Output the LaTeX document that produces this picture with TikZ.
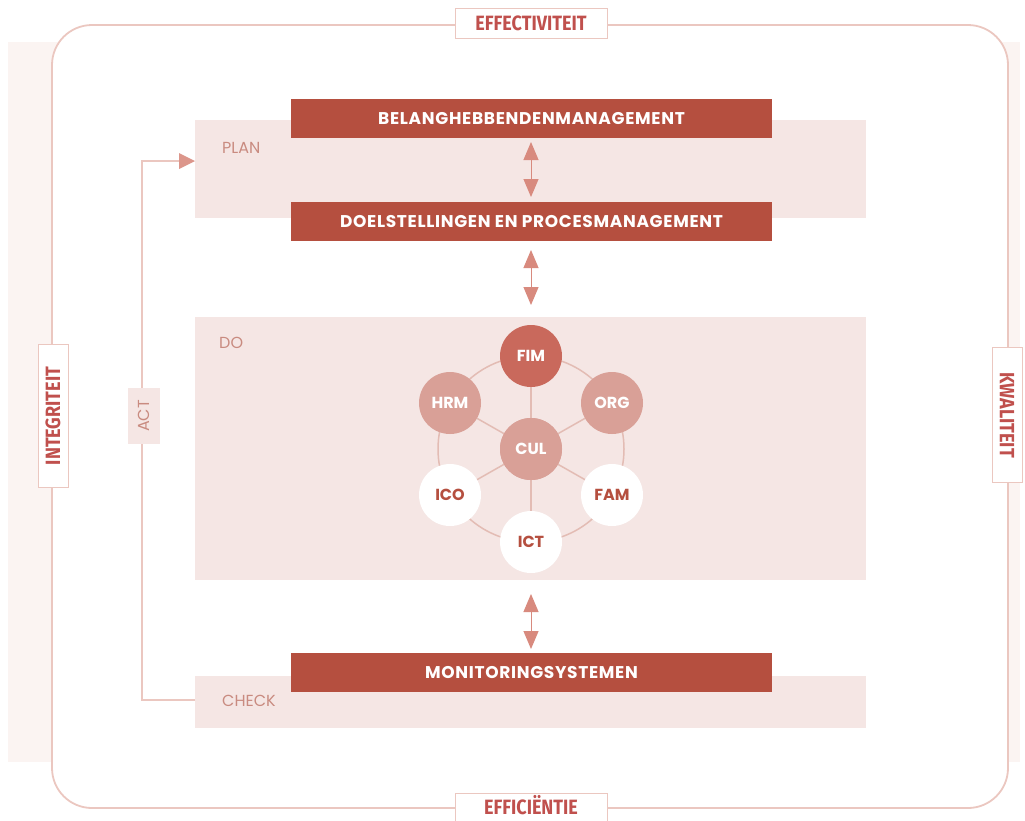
\documentclass[tikz,border=0pt]{standalone}
\usepackage{fontspec}
\setmainfont{Poppins}
\newfontfamily\barfont[LetterSpace=4]{Poppins}
\newfontfamily\tagfont{Fira Sans}
\usetikzlibrary{arrows.meta}
\definecolor{dred}{HTML}{B54F3F}
\definecolor{tred}{HTML}{C0504D}
\definecolor{lpink}{HTML}{F5E6E4}
\definecolor{vlpink}{HTML}{FBF4F2}
\definecolor{linec}{HTML}{EBC7C0}
\definecolor{arrc}{HTML}{D88A7E}
\definecolor{softt}{HTML}{C98B80}
\definecolor{cfim}{HTML}{C9695C}
\definecolor{cmid}{HTML}{D9A097}
\definecolor{ringc}{HTML}{E3BCB4}
\newcommand{\tall}[1]{\scalebox{1}[1.15]{#1}}
\tikzset{
  bar/.style={fill=dred, draw=none, minimum width=481pt, minimum height=39pt, inner sep=0pt, text=white, font=\barfont\fontsize{17}{19}\selectfont\bfseries},
  area/.style={fill=lpink, draw=none},
  tag/.style={fill=white, draw=linec, line width=1pt, inner sep=0pt},
  tagtext/.style={text=tred, font=\tagfont\fontsize{18}{20}\selectfont\bfseries, inner sep=0pt},
  soft/.style={text=softt, font=\fontsize{16}{18}\selectfont, inner sep=0pt},
  dbl/.style={arrc, line width=1pt, {Triangle[width=15pt,length=18pt]}-{Triangle[width=15pt,length=18pt]}},
  hexn/.style={circle, minimum size=62pt, inner sep=0pt, font=\fontsize{16}{18}\selectfont\bfseries},
  dark/.style={hexn, fill=cfim, text=white},
  mid/.style={hexn, fill=cmid, text=white},
  wht/.style={hexn, fill=white, text=dred},
  ring/.style={ringc, line width=1.5pt}
}
\begin{document}
\begin{tikzpicture}[x=1pt,y=-1pt]
\useasboundingbox (0,0) rectangle (1025,820);
% outer light band
\fill[vlpink] (8,42) rectangle (1020,762);
\filldraw[fill=white, draw=linec, line width=1.8pt, rounded corners=40pt] (52,25) rectangle (1008,808);
% tags
\node[tag, minimum width=152pt, minimum height=30pt] (eff) at (531,23) {};
\node[tagtext] (efft) at (531,23) {\tall{EFFECTIVITEIT}};
\node[tag, minimum width=152pt, minimum height=30pt] (effi) at (531,808) {};
\node[tagtext] (effit) at (531,805) {\tall{EFFICIËNTIE}};
\node[tag, minimum width=30pt, minimum height=143pt] (integ) at (53,416) {};
\node[tagtext, rotate=90] (integt) at (53,416) {\tall{INTEGRITEIT}};
\node[tag, minimum width=30pt, minimum height=135pt] (kwal) at (1007,415) {};
\node[tagtext, rotate=-90] (kwalt) at (1007,415) {\tall{KWALITEIT}};
% areas
\fill[area] (195,120) rectangle (866,218);
\coordinate (planL) at (195,161);
\fill[area] (195,317) rectangle (866,580);
\fill[area] (195,676) rectangle (866,728);
\coordinate (checkL) at (195,700);
\node[soft, anchor=west] (plan) at (222,148) {PLAN};
\node[soft, anchor=west] (do) at (219,343) {DO};
\node[soft, anchor=west] (check) at (222,701) {CHECK};
% bars
\node[bar] (belang) at (531.5,118.5) {BELANGHEBBENDENMANAGEMENT};
\node[bar] (doel) at (531.5,221.5) {DOELSTELLINGEN EN PROCESMANAGEMENT};
\node[bar] (mon) at (531.5,672.5) {MONITORINGSYSTEMEN};
% double arrows
\coordinate (a1) at (531,142);
\coordinate (a2) at (531,197);
\coordinate (b1) at (531,250);
\coordinate (b2) at (531,305);
\coordinate (c1) at (531,594);
\coordinate (c2) at (531,649);
\draw[dbl] (a1) -- (a2);
\draw[dbl] (b1) -- (b2);
\draw[dbl] (c1) -- (c2);
% ACT loop
\draw[linec, line width=1.8pt] (checkL) -| (142,161) -- ([xshift=-14pt]planL);
\fill[arrc!80!linec] (planL) -- ++(-16,-8) -- ++(0,16) -- cycle;
\node[fill=lpink, minimum width=32pt, minimum height=56pt, inner sep=0pt] (actb) at (144,416) {};
\node[soft, rotate=90] (act) at (144,416) {ACT};
% hexagon
\node[mid] (cul) at (531,449) {CUL};
\draw[ring] (cul) circle (93pt);
\node[dark] (fim) at (531,356) {FIM};
\node[mid] (hrm) at (450,403) {HRM};
\node[mid] (org) at (612,403) {ORG};
\node[wht] (ico) at (450,495) {ICO};
\node[wht] (fam) at (612,495) {FAM};
\node[wht] (ict) at (531,542) {ICT};
\foreach \n in {fim,hrm,org,ico,fam,ict} \draw[ring] (cul) -- (\n);
\node[mid] at (cul) {CUL};
\end{tikzpicture}
\end{document}
